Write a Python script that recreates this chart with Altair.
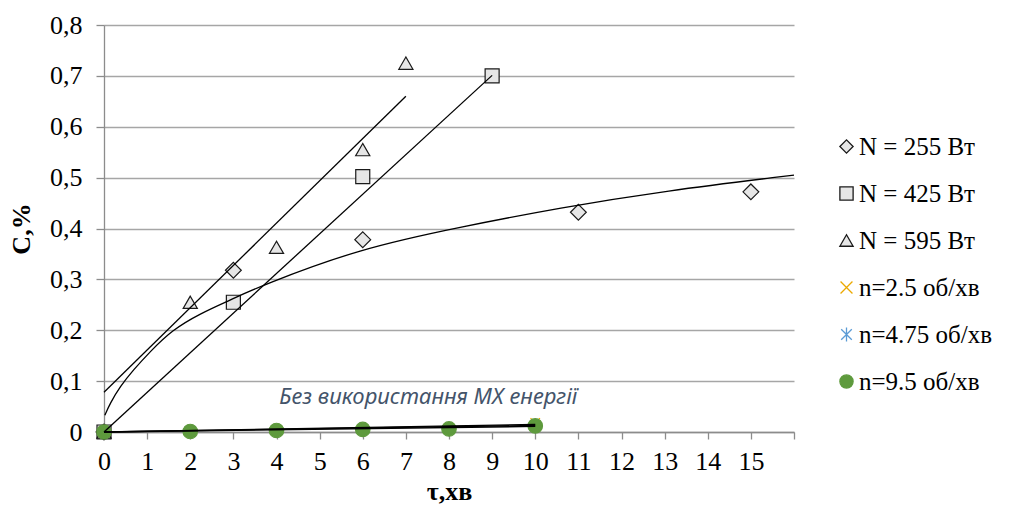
import altair as alt
import pandas as pd

# ---- data ----
series_names = ["N = 255 Вт", "N = 425 Вт", "N = 595 Вт",
                "n=2.5 об/хв", "n=4.75 об/хв", "n=9.5 об/хв"]

n255_x = [0, 3, 6, 11, 15]
n255_y = [0.0, 0.318, 0.378, 0.432, 0.472]

n425_x = [0, 3, 6, 9]
n425_y = [0.0, 0.255, 0.502, 0.700]

n595_x = [0, 2, 4, 6, 7]
n595_y = [0.0, 0.255, 0.363, 0.555, 0.725]

low_x = [0, 2, 4, 6, 8, 10]
n25_y = [0.0, 0.001, 0.003, 0.005, 0.008, 0.018]
n475_y = [0.0, 0.001, 0.003, 0.006, 0.009, 0.014]
n95_y = [0.0, 0.001, 0.003, 0.005, 0.006, 0.012]

# trend lines
tr255_x = [0.02, 0.14, 0.37, 0.68, 1.07, 1.57, 2.23, 2.92, 3.62, 5.94, 8.26, 10.58, 13.0, 16.0]
tr255_y = [0.033, 0.056, 0.089, 0.122, 0.158, 0.200, 0.233, 0.259, 0.287, 0.361, 0.403, 0.441, 0.474, 0.505]
tr425_x = [0, 9]
tr425_y = [0.0, 0.701]
tr595_x = [0, 7]
tr595_y = [0.078, 0.660]
tr25_x = [0, 10]
tr25_y = [0.0, 0.015]
tr475_x = [0, 10]
tr475_y = [0.0, 0.013]
tr95_x = [0, 10]
tr95_y = [0.0, 0.011]

annotation = "Без використання МХ енергії"
annot_x = [7.52]
annot_y = [0.069]

x_ticks = list(range(0, 17))
y_ticks = [0, 0.1, 0.2, 0.3, 0.4, 0.5, 0.6, 0.7, 0.8]

# ---- styles ----
x_path = "M-0.9,-0.9L0.9,0.9M-0.9,0.9L0.9,-0.9"
ast_path = "M-0.8,-0.8L0.8,0.8M-0.8,0.8L0.8,-0.8M0,-1.05L0,1.05"
shapes = ["diamond", "square", "triangle-up", x_path, ast_path, "circle"]
fills = ["#E6E6E6", "#E6E6E6", "#E6E6E6", "transparent", "transparent", "#5E9A3D"]
strokes = ["#1A1A1A", "#1A1A1A", "#1A1A1A", "#EBA900", "#5B9BD5", "#5E9A3D"]
sizes = [250, 196, 200, 110, 110, 210]

# ---- tables ----
rows = []
for k, (xs, ys) in enumerate([(n255_x, n255_y), (n425_x, n425_y), (n595_x, n595_y),
                              (low_x, n25_y), (low_x, n475_y), (low_x, n95_y)]):
    for a, b in zip(xs, ys):
        rows.append({"x": a, "y": b, "series": series_names[k], "msize": sizes[k], "ord": len(rows)})
pts = pd.DataFrame(rows)

trows = []
for k, (xs, ys) in enumerate([(tr255_x, tr255_y), (tr425_x, tr425_y), (tr595_x, tr595_y),
                              (tr25_x, tr25_y), (tr475_x, tr475_y), (tr95_x, tr95_y)]):
    for i, (a, b) in enumerate(zip(xs, ys)):
        trows.append({"x": a, "y": b, "id": k, "i": i})
trend = pd.DataFrame(trows)

ann = pd.DataFrame({"x": annot_x, "y": annot_y, "t": [annotation]})

x_enc = alt.X("x:Q", scale=alt.Scale(domain=[0, 16], nice=False, zero=False),
              axis=alt.Axis(values=x_ticks, title="τ,хв", grid=False,
                            labelExpr="datum.value == 16 ? '' : datum.value",
                            labelFont="Liberation Serif", labelFontSize=26, labelFlush=False,
                            tickSize=7, labelPadding=9, titlePadding=4))
y_enc = alt.Y("y:Q", scale=alt.Scale(domain=[0, 0.8], nice=False),
              axis=alt.Axis(values=y_ticks, title="C,%", grid=True,
                            labelExpr="datum.value == 0 ? '0' : replace(format(datum.value, '.1f'), '.', ',')",
                            labelFont="Liberation Serif", labelFontSize=26,
                            tickSize=8, labelPadding=14, titlePadding=15))

legend = alt.Legend(title=None, orient="none", legendX=730, legendY=109, padding=0,
                    labelFont="Liberation Serif", labelFontSize=25,
                    labelColor="black", symbolSize=175,
                    symbolStrokeWidth=1.3, rowPadding=21,
                    labelOffset=0, symbolOpacity=1)

points = alt.Chart(pts).mark_point(opacity=1, strokeWidth=1.2).encode(
    x=x_enc, y=y_enc,
    shape=alt.Shape("series:N", scale=alt.Scale(domain=series_names, range=shapes), legend=legend),
    fill=alt.Fill("series:N", scale=alt.Scale(domain=series_names, range=fills)),
    stroke=alt.Stroke("series:N", scale=alt.Scale(domain=series_names, range=strokes)),
    size=alt.Size("msize:Q", scale=None),
    order=alt.Order("ord:Q"),
)

lines = alt.Chart(trend).mark_line(color="black", strokeWidth=1.3, interpolate="basis").encode(
    x="x:Q", y="y:Q", detail="id:N", order="i:Q"
)

text = alt.Chart(ann).mark_text(font="Noto Sans", fontStyle="italic", fontSize=22,
                                color="#44546A").encode(x="x:Q", y="y:Q", text="t:N")

chart = alt.layer(points, lines, text).properties(
    width=690, height=407,
    autosize=alt.AutoSizeParams(type="none"),
    padding={"left": 96, "top": 17, "right": 222, "bottom": 78},
).configure_view(stroke=None).configure_axis(
    labelFont="Liberation Serif", labelFontSize=26, labelColor="black",
    titleFont="Liberation Serif", titleFontSize=26, titleFontWeight="bold", titleColor="black",
    domainColor="#8C8C8C", tickColor="#8C8C8C", gridColor="#A6A6A6", gridWidth=1.3,
    domainWidth=1.3, tickWidth=1.3,
)

chart.save("out.html", embed_options={"renderer": "svg", "actions": False})
